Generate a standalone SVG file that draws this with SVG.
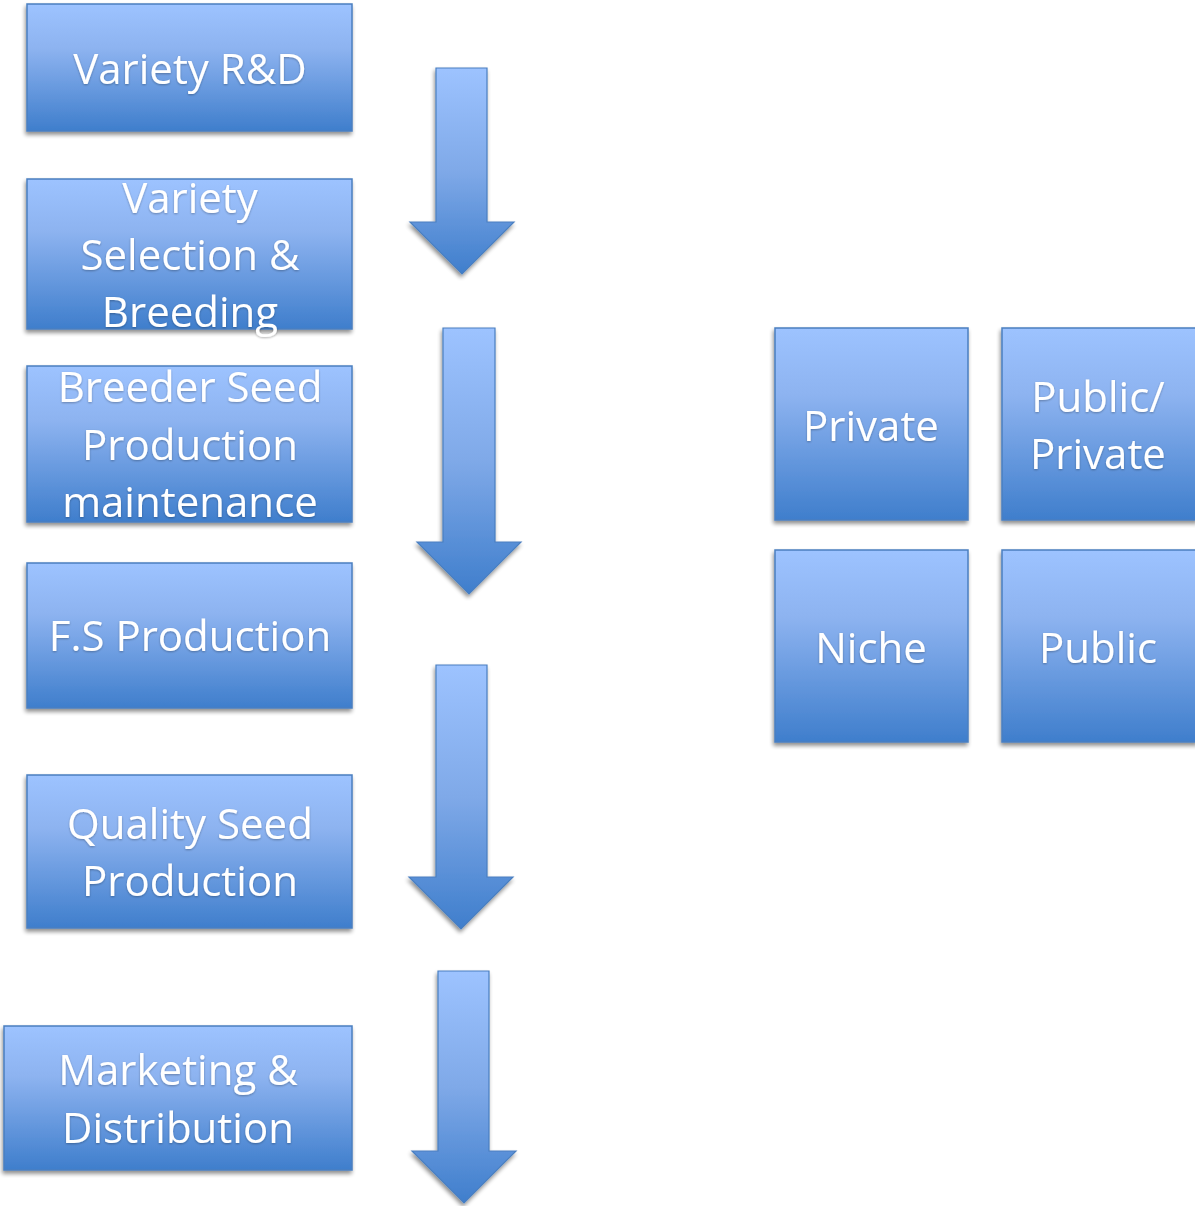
<svg xmlns="http://www.w3.org/2000/svg" width="1195" height="1206" viewBox="0 0 1195 1206">
<defs>
<linearGradient id="g" x1="0" y1="0" x2="0" y2="1">
<stop offset="0" stop-color="#9dc3ff"/>
<stop offset="0.35" stop-color="#8db3f0"/>
<stop offset="1" stop-color="#3f7ecc"/>
</linearGradient>
<linearGradient id="ga" gradientUnits="objectBoundingBox" x1="0" y1="0" x2="0" y2="1">
<stop offset="0" stop-color="#9dc3ff"/>
<stop offset="0.5" stop-color="#7fa9e8"/>
<stop offset="1" stop-color="#3f7ecc"/>
</linearGradient>
<filter id="sh" x="-10%" y="-10%" width="120%" height="125%">
<feGaussianBlur in="SourceAlpha" stdDeviation="2"/>
<feOffset dx="-1" dy="3" result="o"/>
<feComponentTransfer><feFuncA type="linear" slope="0.45"/></feComponentTransfer>
<feMerge><feMergeNode/><feMergeNode in="SourceGraphic"/></feMerge>
</filter>
<filter id="ts" x="-5%" y="-10%" width="110%" height="130%">
<feGaussianBlur in="SourceAlpha" stdDeviation="1"/>
<feOffset dx="0" dy="1"/>
<feComponentTransfer><feFuncA type="linear" slope="0.3"/></feComponentTransfer>
<feMerge><feMergeNode/><feMergeNode in="SourceGraphic"/></feMerge>
</filter>
</defs>
<style>
.box{fill:url(#g);stroke:#4a7fc0;stroke-width:1.5;filter:url(#sh)}
.arr{fill:url(#ga);stroke:#4a7fc0;stroke-width:1.2;filter:url(#sh)}
.t{font-family:"Open Sans","Liberation Sans",sans-serif;font-size:42px;fill:#ffffff;text-anchor:middle;dominant-baseline:central;filter:url(#ts)}
</style>
<rect width="1195" height="1206" fill="#ffffff"/>
<g id="n1"><rect class="box" x="27" y="4" width="325" height="127"/><text class="t" x="190" y="67">Variety R&amp;D</text></g>
<g id="n2"><rect class="box" x="27" y="179" width="325" height="150"/><text class="t" x="190" y="196">Variety</text><text class="t" x="190" y="253">Selection &amp;</text><text class="t" x="190" y="310">Breeding</text></g>
<g id="n3"><rect class="box" x="27" y="366" width="325" height="156"/><text class="t" x="190" y="385">Breeder Seed</text><text class="t" x="190" y="443">Production</text><text class="t" x="190" y="500">maintenance</text></g>
<g id="n4"><rect class="box" x="27" y="563" width="325" height="145"/><text class="t" x="190" y="634">F.S Production</text></g>
<g id="n5"><rect class="box" x="27" y="775" width="325" height="153"/><text class="t" x="190" y="822">Quality Seed</text><text class="t" x="190" y="879">Production</text></g>
<g id="n6"><rect class="box" x="4" y="1026" width="348" height="144"/><text class="t" x="178" y="1068">Marketing &amp;</text><text class="t" x="178" y="1126">Distribution</text></g>
<g id="n7"><rect class="box" x="775" y="328" width="193" height="192"/><text class="t" x="871" y="424">Private</text></g>
<g id="n8"><rect class="box" x="1002" y="328" width="196" height="192"/><text class="t" x="1098" y="395">Public/</text><text class="t" x="1098" y="452">Private</text></g>
<g id="n9"><rect class="box" x="775" y="550" width="193" height="192"/><text class="t" x="871" y="646">Niche</text></g>
<g id="n10"><rect class="box" x="1002" y="550" width="196" height="192"/><text class="t" x="1098" y="646">Public</text></g>
<g id="connectors">
<path class="arr" d="M436 68 H487 V222 H514 L462 274 L410 222 H436 Z"/>
<path class="arr" d="M443 328 H495 V542 H521 L469 594 L417 542 H443 Z"/>
<path class="arr" d="M436 665 H487 V877 H513 L461 929 L409 877 H436 Z"/>
<path class="arr" d="M438 971 H489 V1151 H516 L464 1203 L412 1151 H438 Z"/>
</g>
</svg>
